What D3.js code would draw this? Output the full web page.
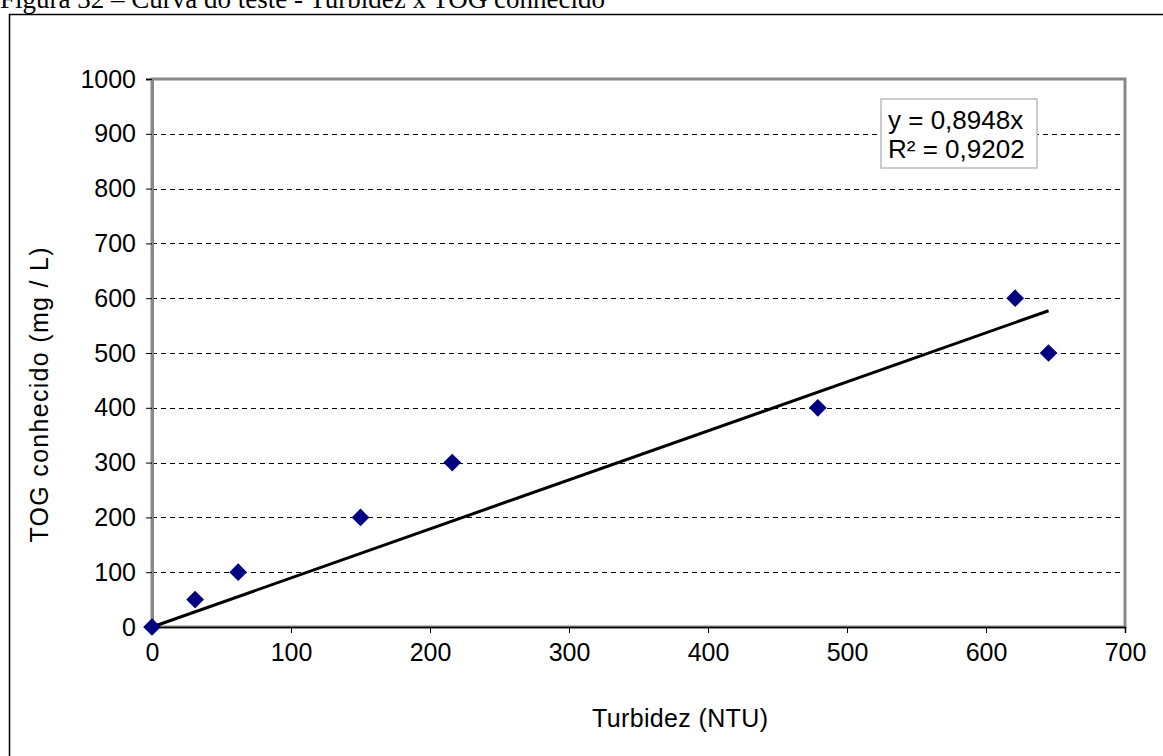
<!DOCTYPE html>
<html>

<head>
    <title>Turbidez x TOG conhecido</title>
    <script src="https://d3js.org/d3.v7.min.js"></script>
    <style>
        body { margin: 0; background: #fff; }
        text { font-family: Arial, "Liberation Sans", sans-serif; }
    </style>
</head>

<body>
    <svg id="chart"></svg>

    <script>
        // Data
        const turbidez = [0, 31, 62, 150, 216, 479, 621, 645];
        const tog = [0, 50, 100, 200, 300, 400, 600, 500];
        const xTicks = [0, 100, 200, 300, 400, 500, 600, 700];
        const yTicks = [0, 100, 200, 300, 400, 500, 600, 700, 800, 900, 1000];
        const slope = 0.8948;
        const eqLines = ['y = 0,8948x', 'R² = 0,9202'];

        const width = 1163;
        const height = 756;
        const margin = { top: 79, right: 38, bottom: 129, left: 152 };

        const svg = d3.select('#chart')
            .attr('width', width)
            .attr('height', height);

        // caption, cut off at the top of the page
        svg.append('text')
            .attr('x', 0)
            .attr('y', 8)
            .attr('textLength', 605)
            .style('font-family', '"Liberation Serif", "Times New Roman", serif')
            .style('font-size', '27px')
            .text('Figura 32 – Curva do teste - Turbidez x TOG conhecido');

        // outer chart frame
        svg.append('path')
            .attr('d', `M9.5,${height} V14.5 H${width}`)
            .attr('fill', 'none')
            .attr('stroke', '#000')
            .attr('stroke-width', 1.5);

        const x = d3.scaleLinear().domain([0, 700]).range([margin.left, width - margin.right]);
        const y = d3.scaleLinear().domain([0, 1000]).range([height - margin.bottom, margin.top]);

        // dashed grid lines
        svg.append('g')
            .selectAll('line')
            .data(yTicks.filter(d => d > 0 && d < 1000))
            .join('line')
            .attr('x1', x(0))
            .attr('x2', x(700))
            .attr('y1', d => Math.round(y(d)) + 0.5)
            .attr('y2', d => Math.round(y(d)) + 0.5)
            .attr('stroke', '#000')
            .attr('stroke-dasharray', '5,4');

        // plot area border (gray)
        svg.append('rect')
            .attr('x', x(0))
            .attr('y', y(1000))
            .attr('width', x(700) - x(0))
            .attr('height', y(0) - y(1000))
            .attr('fill', 'none')
            .attr('stroke', '#888')
            .attr('stroke-width', 3);

        // axes
        const xAxis = svg.append('g')
            .attr('transform', `translate(0,${y(0)})`)
            .call(d3.axisBottom(x).tickValues(xTicks).tickFormat(d3.format('d')).tickSize(6).tickPadding(10));
        const yAxis = svg.append('g')
            .attr('transform', `translate(${x(0)},0)`)
            .call(d3.axisLeft(y).tickValues(yTicks).tickFormat(d3.format('d')).tickSize(6).tickPadding(10));

        xAxis.select('.domain').attr('stroke', '#000').attr('stroke-width', 1.5);
        yAxis.select('.domain').attr('stroke', '#888').attr('stroke-width', 3);
        [xAxis, yAxis].forEach(a => {
            a.selectAll('text')
                .style('font-family', 'Arial, "Liberation Sans", sans-serif')
                .style('font-size', '25px')
                .attr('fill', '#000');
            a.selectAll('.tick line').attr('stroke', '#000');
        });

        // trend line through the origin
        const xMax = d3.max(turbidez);
        svg.append('line')
            .attr('x1', x(0))
            .attr('y1', y(0))
            .attr('x2', x(xMax))
            .attr('y2', y(slope * xMax))
            .attr('stroke', '#000')
            .attr('stroke-width', 3);

        // points
        svg.append('g')
            .selectAll('path')
            .data(turbidez.map((d, i) => [d, tog[i]]))
            .join('path')
            .attr('d', d3.symbol(d3.symbolDiamond2, 200))
            .attr('transform', d => `translate(${x(d[0])},${y(d[1])})`)
            .attr('fill', '#000080');

        // equation box
        const box = svg.append('g').attr('transform', 'translate(881,99)');
        box.append('rect')
            .attr('width', 156)
            .attr('height', 69)
            .attr('fill', '#fff')
            .attr('stroke', '#bbb')
            .attr('stroke-width', 1.5);
        box.selectAll('text')
            .data(eqLines)
            .join('text')
            .attr('x', 7)
            .attr('y', (d, i) => 30 + i * 29)
            .style('font-size', '26px')
            .text(d => d);

        // axis titles
        svg.append('text')
            .attr('x', 680)
            .attr('y', 727)
            .attr('text-anchor', 'middle')
            .attr('textLength', 176)
            .style('font-size', '25px')
            .text('Turbidez (NTU)');

        svg.append('text')
            .attr('transform', `translate(48,395) rotate(-90)`)
            .attr('text-anchor', 'middle')
            .attr('textLength', 295)
            .style('font-size', '25px')
            .text('TOG conhecido (mg / L)');
    </script>
</body>

</html>
